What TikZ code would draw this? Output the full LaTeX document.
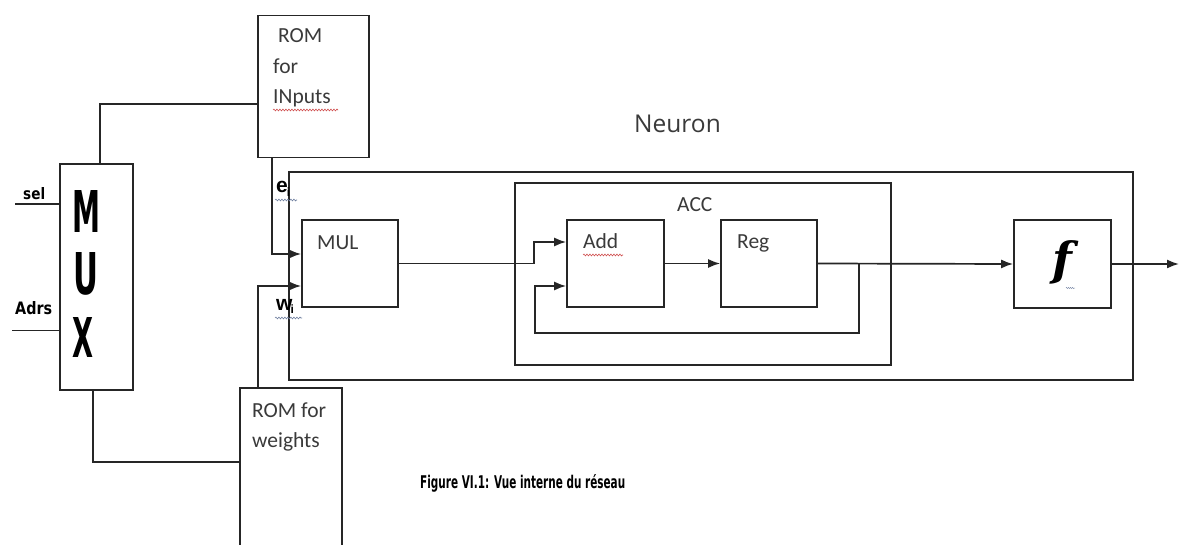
\documentclass[tikz,border=0pt]{standalone}
\usepackage{fontspec}
\setmainfont{Carlito}
\newfontfamily\dvs{DejaVu Sans}
\newfontfamily\dvserif{DejaVu Serif}
\newfontfamily\lsans{Liberation Sans}
\newfontfamily\osans{Open Sans}
\usetikzlibrary{arrows.meta,decorations.pathmorphing}
\definecolor{linec}{HTML}{262626}
\definecolor{textc}{HTML}{3A3A3A}
\definecolor{wavyred}{HTML}{D05050}
\definecolor{wavyblue}{HTML}{7080A0}
\newcommand{\condtxt}[3]{\resizebox{#1}{#2}{\dvs\bfseries #3}}
\begin{document}
\begin{tikzpicture}[x=1pt,y=-1pt,
  box/.style={draw=linec, line width=1.7pt, inner sep=0pt},
  wire/.style={draw=linec, line width=1.7pt},
  arr/.style={wire, -{Latex[length=12pt,width=9pt]}},
  lbl/.style={inner sep=0pt, anchor=base west, text=textc, font=\fontsize{21.5}{25}\selectfont},
  cond/.style={inner sep=0pt, anchor=base west, text=black},
  wavy/.style={line width=0.6pt, decorate, decoration={snake, amplitude=0.9pt, segment length=3pt}}
]
\useasboundingbox (0,0) rectangle (1179,545);
\fill[white] (0,0) rectangle (1179,545);

% boxes
\node[box, minimum width=73pt, minimum height=226pt] (mux) at (96.5,277) {};
\node[box, minimum width=111pt, minimum height=142pt] (romin) at (313.5,86.5) {};
\node[box, minimum width=102pt, minimum height=180pt] (romw) at (291,478) {};
\node[box, minimum width=844pt, minimum height=208pt] (neuron) at (711,276) {};
\node[box, minimum width=96pt, minimum height=87pt] (mul) at (350,263.5) {};
\node[box, minimum width=376pt, minimum height=182pt] (acc) at (703,274) {};
\node[box, minimum width=97pt, minimum height=87pt] (add) at (615.5,263.5) {};
\node[box, minimum width=96pt, minimum height=87pt] (reg) at (769,263.5) {};
\node[box, minimum width=97pt, minimum height=88pt] (fbox) at (1062.5,264) {};

% MUX letters
\node[inner sep=0pt] (mM) at (86,211) {\condtxt{28pt}{42pt}{M}};
\node[inner sep=0pt] (mU) at (86,274) {\condtxt{25pt}{42pt}{U}};
\node[inner sep=0pt] (mX) at (83,337) {\condtxt{21pt}{40pt}{X}};

% input labels
\node[cond] (lsel) at (23,200) {\condtxt{22pt}{12pt}{sel}};
\node[cond] (ladrs) at (15,315) {\condtxt{37pt}{13pt}{Adrs}};
\coordinate (selin) at (15,204);
\coordinate (adrsin) at (12,330.5);
\draw[wire] (selin) -- (selin -| mux.west);
\draw[wire] (adrsin) -- (adrsin -| mux.west);

% ROM texts
\node[lbl] (t1) at (278,43) {ROM};
\node[lbl] (t2) at (273,74) {for};
\node[lbl] (t3) at (273,104) {INputs};
\draw[wavy, wavyred] (273,110) -- (338,110);
\node[lbl] (t4) at (252,418) {ROM for};
\node[lbl] (t5) at (252,447) {weights};

\node[lbl] (tmul) at (317,250) {MUL};
\node[lbl] (tadd) at (583,249) {Add};
\draw[wavy, wavyred] (583,255) -- (623,255);
\node[lbl] (treg) at (737,249) {Reg};
\node[lbl] (tacc) at (677,212) {ACC};
\node[inner sep=0pt, anchor=base west, text=textc, font=\osans\fontsize{24.5}{28}\selectfont] (tneu) at (634,133) {Neuron};

% e_i, w_i
\node[inner sep=0pt, anchor=base west, font=\lsans\bfseries\fontsize{21}{24}\selectfont] (lei) at (276,193) {e\kern-1pt\raisebox{-4pt}{\fontsize{12}{13}\selectfont i}};
\draw[wavy, wavyblue] (275,200) -- (297,200);
\node[inner sep=0pt, anchor=base west, font=\lsans\bfseries\fontsize{21}{24}\selectfont] (lwi) at (276,311) {w\kern-2pt\raisebox{-3pt}{\fontsize{12}{13}\selectfont i}};
\draw[wavy, wavyblue] (275,318) -- (302,318);

% f
\node[inner sep=0pt, font=\dvserif\bfseries\itshape\fontsize{46}{50}\selectfont] (tf) at (1062,262) {f};
\draw[wavy, wavyblue, line width=0.4pt, decoration={snake, amplitude=0.6pt, segment length=2pt}] (1066,288) -- (1075,288);

% caption
\node[inner sep=0pt, anchor=base west] (cap) at (420,488) {\condtxt{205pt}{14pt}{Figure VI.1: Vue interne du réseau}};

% wires
\draw[wire] ([xshift=3.5pt]mux.north) |- ([yshift=-17.5pt]romin.west);
\draw[wire] ([xshift=-3.5pt]mux.south) |- ([yshift=16pt]romw.west);
\draw[arr] ([xshift=-41.5pt]romin.south) |- ([yshift=9.5pt]mul.west);
\draw[arr] ([xshift=-33pt]romw.north) |- ([yshift=-22.5pt]mul.west);
\draw[arr] (mul.east) -- ++(135,0) |- ([yshift=21.5pt]add.west);
\draw[arr] (add.east) -- (reg.west);
\draw[arr] (reg.east) -- (fbox.west);
\coordinate (fb) at ([xshift=41pt]reg.east);
\draw[arr] (fb) -- ++(0,69.5) -- ++(-324,0) |- ([yshift=-22.5pt]add.west);
\coordinate (outp) at (1179,264);
\draw[arr] (fbox.east) -- (outp);
\end{tikzpicture}
\end{document}
